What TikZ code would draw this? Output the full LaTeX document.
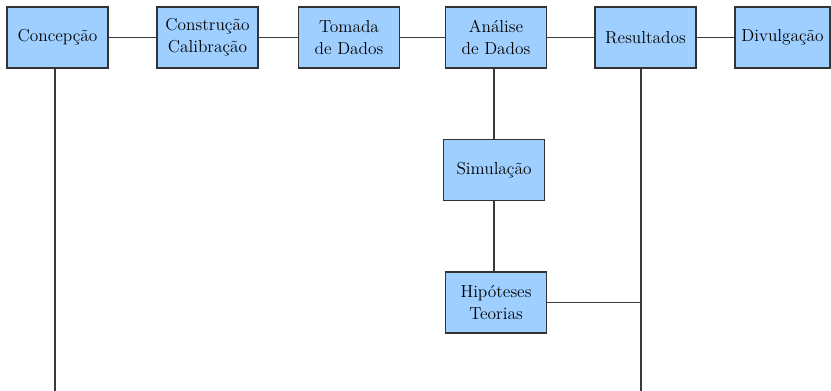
\documentclass[tikz,border=0pt]{standalone}
\usepackage{xcolor}
\usepackage{tikz}
\usetikzlibrary{calc}
\definecolor{boxfill}{HTML}{9FCFFF}
\definecolor{boxline}{HTML}{333333}
\definecolor{wire}{HTML}{3A3A3A}
\tikzset{
  stage/.style={draw=boxline, fill=boxfill, line width=0.8pt,
    minimum width=75.75pt, minimum height=45.75pt,
    align=center, inner sep=1pt, font=\fontsize{13}{16.5}\selectfont},
  wire/.style={draw=wire, line width=0.8pt}
}

\begin{document}
\begin{tikzpicture}[x=0.75pt,y=-0.75pt]
  \useasboundingbox (0,0) rectangle (831,391);
  % main line
  \node[stage] (conc) at (57.5,37.5) {Concepção};
  \node[stage] (cons) at (207.5,37.5) {Construção\\Calibração};
  \node[stage] (tom) at (349,37.5) {Tomada\\de Dados};
  \node[stage] (ana) at (496,37.5) {Análise\\de Dados};
  \node[stage] (res) at (645.5,37.5) {Resultados};
  \node[stage, minimum width=71.25pt] (div) at (782.5,37.5) {Divulgação};
  % branch
  \node[stage] (sim) at (494,170) {Simulação};
  \node[stage] (hip) at (496,302.5) {Hipóteses\\Teorias};

  \coordinate (concEnd) at (55,391);
  \coordinate (resEnd) at (641,391);

  \foreach \a/\b in {conc/cons,cons/tom,tom/ana,ana/res,res/div}{
    \draw[wire] (\a.east) -- (\b.west);
  }
  \draw[wire] (ana.south -| sim) -- (sim.north);
  \draw[wire] (sim) -- (sim |- hip.north);
  \draw[wire] (conc.south -| concEnd) -- (concEnd);
  \draw[wire] (res.south -| resEnd) -- (resEnd);
  \draw[wire] (hip.east) -- (hip.east -| resEnd);
\end{tikzpicture}
\end{document}
